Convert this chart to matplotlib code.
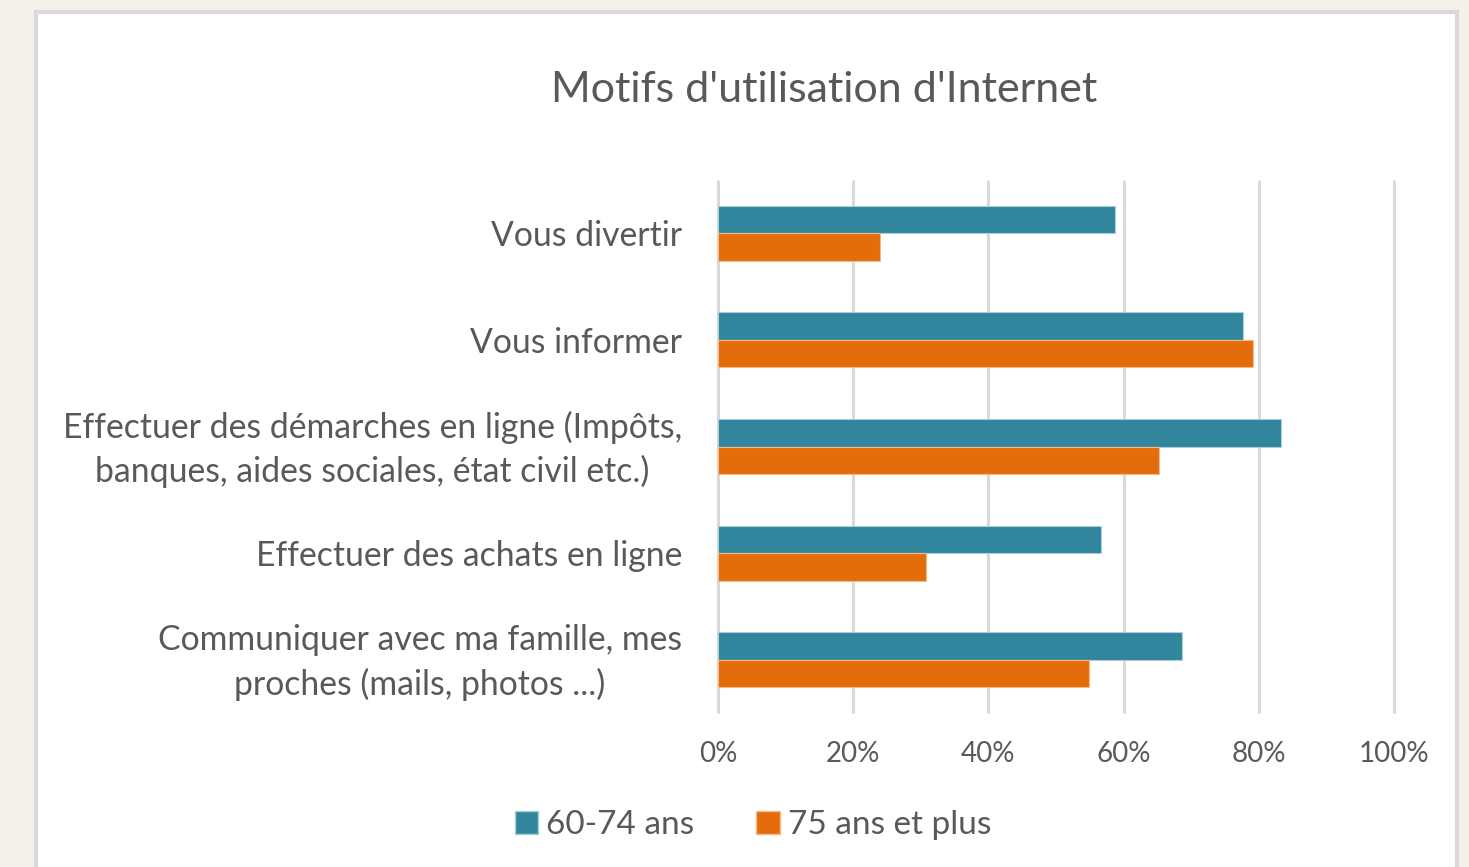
import matplotlib
matplotlib.use("Agg")
import matplotlib.pyplot as plt
from matplotlib.patches import Rectangle, Patch
from matplotlib.transforms import ScaledTranslation
import numpy as np

categories = [
    "Vous divertir",
    "Vous informer",
    "Effectuer des démarches en ligne (Impôts,\nbanques, aides sociales, état civil etc.)",
    "Effectuer des achats en ligne",
    "Communiquer avec ma famille, mes\nproches (mails, photos ...)",
]
series_names = ["60-74 ans", "75 ans et plus"]
values_60_74 = [0.587, 0.776, 0.833, 0.566, 0.686]
values_75 = [0.240, 0.792, 0.653, 0.308, 0.549]
tick_values = [0, 0.2, 0.4, 0.6, 0.8, 1.0]
tick_labels = ["0%", "20%", "40%", "60%", "80%", "100%"]
title = "Motifs d'utilisation d'Internet"

teal = "#31859C"
orange = "#E46C0A"
text_col = "#595959"
grid_col = "#D9D9D9"

plt.rcParams['font.family'] = ['Lato', 'DejaVu Sans']

W, H = 1469, 867
fig = plt.figure(figsize=(W / 100, H / 100), dpi=100)
fig.patch.set_facecolor("#F4F1E9")

# white chart panel with grey border
panel = Rectangle((35.5 / W, -0.05), (1457 - 35.5) / W, (1 - 12 / H) + 0.05,
                  transform=fig.transFigure, facecolor="white",
                  edgecolor="#D9D9D9", linewidth=3, zorder=-10)
fig.patches.append(panel)

left, right = 718 / W, 1394 / W
bottom, top = 1 - 713 / H, 1 - 180 / H
ax = fig.add_axes([left, bottom, right - left, top - bottom])
ax.set_facecolor("none")

n = len(categories)
y = np.arange(n)
h = 0.258
ax.barh(y - h / 2, values_60_74, height=h, color=teal, edgecolor="#A9D0DA",
        linewidth=0.8, zorder=3, label=series_names[0])
ax.barh(y + h / 2, values_75, height=h, color=orange, edgecolor="#F6B98A",
        linewidth=0.8, zorder=3, label=series_names[1])

ax.set_ylim(n - 0.5, -0.5)
ax.set_xlim(0, 1.0)
ax.set_yticks(y)
ax.set_yticklabels(categories, fontsize=24.3, color=text_col,
                   multialignment="center", linespacing=1.42)
ax.set_xticks(tick_values)
ax.set_xticklabels(tick_labels, fontsize=20, color=text_col)
ax.tick_params(axis="y", length=0, pad=26)
ax.tick_params(axis="x", length=0, pad=20.5)
for s in ax.spines.values():
    s.set_visible(False)

# nudge two-line labels up slightly
for lbl in ax.get_yticklabels():
    if "\n" in lbl.get_text():
        lbl.set_transform(lbl.get_transform() +
                          ScaledTranslation(0, 6 / 100, fig.dpi_scale_trans))

for t in tick_values:
    ax.plot([t, t], [n - 0.5 + 0.0, -0.5], color=grid_col, linewidth=2.2,
            zorder=1, clip_on=False, solid_capstyle="butt")

fig.text(824 / W, 1 - 90 / H, title, ha="center", va="center",
         fontsize=31, color=text_col)

handles = [Patch(facecolor=teal, edgecolor="#A9D0DA"),
           Patch(facecolor=orange, edgecolor="#F6B98A")]
fig.legend(handles, series_names, loc="center", bbox_to_anchor=(753 / W, 1 - 825 / H),
           ncol=2, frameon=False, fontsize=24, labelcolor=text_col,
           handlelength=0.7, handleheight=0.7, handletextpad=0.25,
           columnspacing=1.85)

fig.savefig("out.png", dpi=100, facecolor=fig.get_facecolor())
